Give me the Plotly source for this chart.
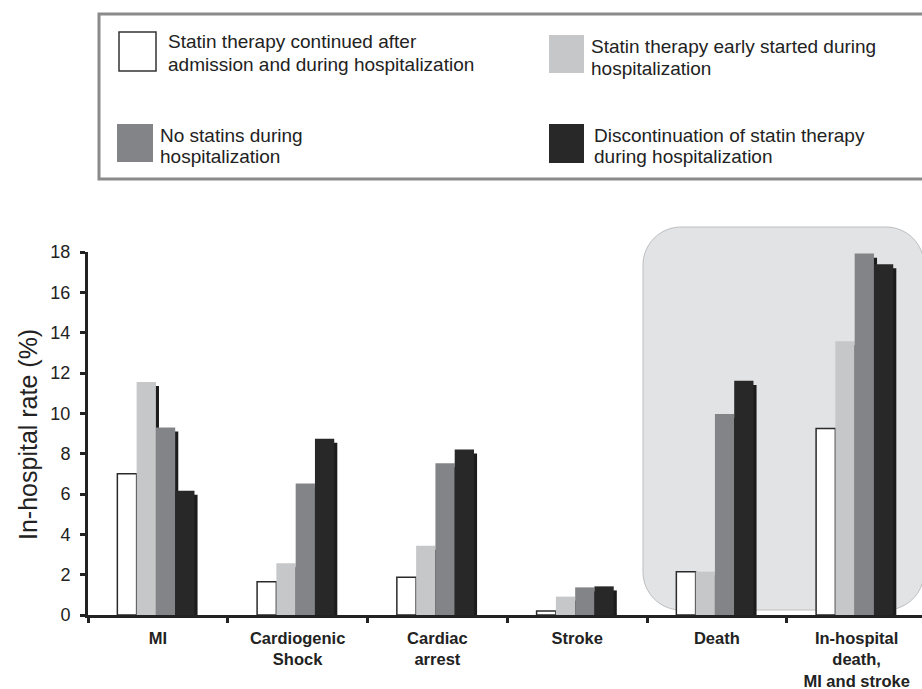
import plotly.graph_objects as go

# ---------------- data ----------------
categories = ["MI", "Cardiogenic<br>Shock", "Cardiac<br>arrest", "Stroke", "Death",
              "In-hospital<br>death,<br>MI and stroke"]
continued = [7.0, 1.65, 1.87, 0.2, 2.14, 9.25]
early_started = [11.55, 2.57, 3.44, 0.91, 2.15, 13.58]
no_statins = [9.3, 6.52, 7.53, 1.37, 9.97, 17.92]
discontinued = [6.16, 8.74, 8.21, 1.42, 11.61, 17.39]
series_values = [continued, early_started, no_statins, discontinued]
series_names = [
    "Statin therapy continued after admission and during hospitalization",
    "Statin therapy early started during hospitalization",
    "No statins during hospitalization",
    "Discontinuation of statin therapy during hospitalization",
]
legend_lines = [
    ["Statin therapy continued after", "admission and during hospitalization"],
    ["Statin therapy early started during", "hospitalization"],
    ["No statins during", "hospitalization"],
    ["Discontinuation of statin therapy", "during hospitalization"],
]
y_ticks = [0, 2, 4, 6, 8, 10, 12, 14, 16, 18]

# ---------------- style ----------------
fills = ["#ffffff", "#c6c7c9", "#838488", "#282828"]
outlines = ["#2a2a2a", "#c6c7c9", "#838488", "#282828"]
outline_w = [1.5, 0, 0, 0]
shadow_col = "#1c1c1c"
FONT = "Liberation Sans, Arial"

W, H = 922, 689
ML, MR, MT, MB = 88, 0, 252, 74
PW, PH = W - ML - MR, H - MT - MB
unit = 139.75                      # px per category
x_hi = -0.5 + PW / unit
bw = 0.138                          # bar width (category units)
start = -0.29


def px(x):
    return (x - ML) / PW


def py(y):
    return (H - MB - y) / PH


fig = go.Figure()

# soft glow under the white bars (below axis)
fig.add_trace(go.Bar(
    x=categories, y=[0.3] * len(categories), base=[-0.42] * len(categories),
    offset=start + 0.01, width=bw * 1.2, marker=dict(color="rgba(110,110,110,0.55)", line_width=0),
    cliponaxis=False, showlegend=False, hoverinfo="skip"))

for i, vals in enumerate(series_values):
    off = start + i * bw
    # shadow
    fig.add_trace(go.Bar(
        x=categories, y=[v - 0.2 for v in vals], offset=off + 0.022, width=bw,
        marker=dict(color=shadow_col, line_width=0), showlegend=False, hoverinfo="skip"))
    fig.add_trace(go.Bar(
        x=categories, y=vals, offset=off, width=bw, name=series_names[i],
        marker=dict(color=fills[i], line=dict(color=outlines[i], width=outline_w[i])),
        showlegend=False))

shapes = []
# highlighted rounded region
x0, y0, x1, y1, r = 643, 227, 924, 610, 38
k = 0.5523 * r
pts = [
    ("M", [(x0 + r, y0)]),
    ("L", [(x1 - r, y0)]),
    ("C", [(x1 - r + k, y0), (x1, y0 + r - k), (x1, y0 + r)]),
    ("L", [(x1, y1 - r)]),
    ("C", [(x1, y1 - r + k), (x1 - r + k, y1), (x1 - r, y1)]),
    ("L", [(x0 + r, y1)]),
    ("C", [(x0 + r - k, y1), (x0, y1 - r + k), (x0, y1 - r)]),
    ("L", [(x0, y0 + r)]),
    ("C", [(x0, y0 + r - k), (x0 + r - k, y0), (x0 + r, y0)]),
]
path = " ".join(cmd + " " + " ".join(f"{px(a):.5f},{py(b):.5f}" for a, b in p) for cmd, p in pts) + " Z"
shapes.append(dict(type="path", xref="paper", yref="paper", path=path,
                   fillcolor="#e2e3e5", line=dict(color="#bdbec0", width=1), layer="below"))

# legend frame
shapes.append(dict(type="rect", xref="paper", yref="paper", x0=px(99), x1=px(960), y0=py(179), y1=py(14),
                   fillcolor="white", line=dict(color="#8a8a8a", width=3), layer="above"))

sq = [(119, 32, 156, 71), (549, 35, 584, 73), (117, 124, 153, 162), (549, 124, 584, 163)]
text_x = [166, 589, 158, 592]
text_y = [(42, 64), (47, 68), (135, 157), (135, 156)]
annotations = []
for i in range(4):
    a, b, c, d = sq[i]
    shapes.append(dict(type="rect", xref="paper", yref="paper", x0=px(a), x1=px(c), y0=py(d), y1=py(b),
                       fillcolor=fills[i], line=dict(color=outlines[i] if i else "#333333",
                                                     width=1.5 if i == 0 else 0), layer="above"))
    for j, line in enumerate(legend_lines[i]):
        annotations.append(dict(xref="paper", yref="paper", x=px(text_x[i]), y=py(text_y[i][j]),
                                text=line, showarrow=False, xanchor="left", yanchor="middle",
                                font=dict(family=FONT, size=19, color="#222222")))

annotations.append(dict(xref="paper", yref="paper", x=px(28), y=py(435), text="In-hospital rate (%)",
                        showarrow=False, textangle=-90, xanchor="center", yanchor="middle",
                        font=dict(family=FONT, size=25, color="#222222")))

fig.update_layout(
    width=W, height=H, margin=dict(l=ML, r=MR, t=MT, b=MB, pad=0, autoexpand=False),
    paper_bgcolor="white", plot_bgcolor="rgba(0,0,0,0)",
    barmode="overlay", showlegend=False,
    shapes=shapes, annotations=annotations,
    xaxis=dict(type="category", range=[-0.5, x_hi], tickson="boundaries", ticks="outside",
               ticklen=5, tickwidth=2.5, tickcolor="#222222", showline=True, linewidth=3,
               linecolor="#222222", showgrid=False, zeroline=False, ticklabelstandoff=6,
               automargin=False,
               tickfont=dict(family=FONT, size=16.5, color="#222222", weight="bold")),
    yaxis=dict(range=[0, 18], tickvals=y_ticks, ticks="outside", ticklen=5, tickwidth=3,
               tickcolor="#222222", showline=True, linewidth=3, linecolor="#222222",
               showgrid=False, zeroline=False, ticklabelstandoff=6, automargin=False,
               tickfont=dict(family=FONT, size=18, color="#222222")),
)

fig.write_html("out.html", config={"displayModeBar": False},
               post_script="document.body.style.margin='0';document.body.style.overflow='hidden';")
